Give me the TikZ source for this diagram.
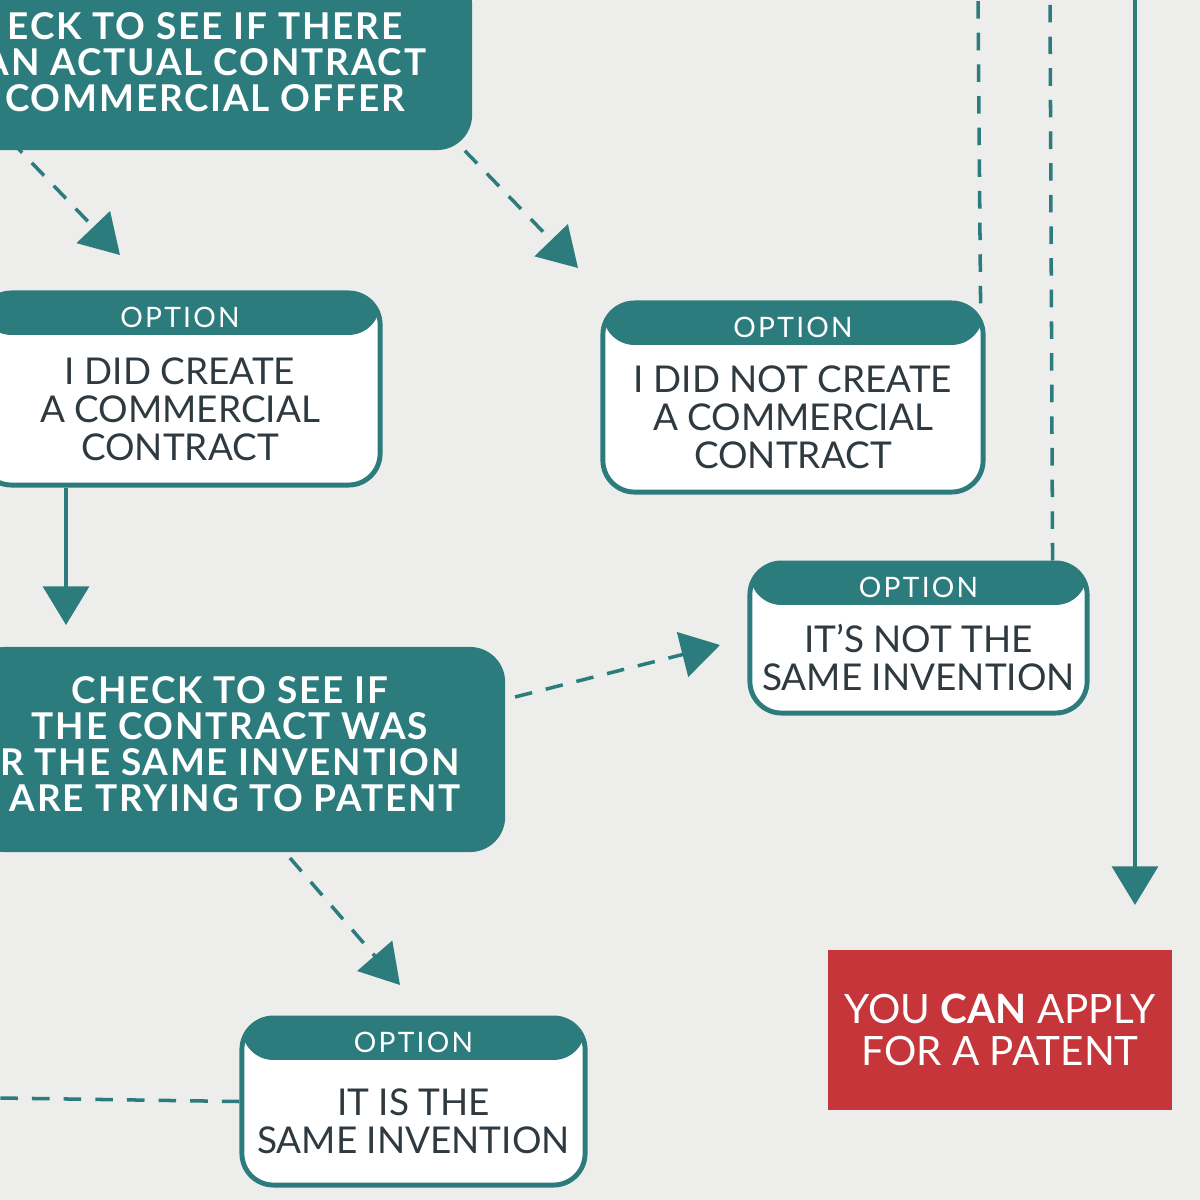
\documentclass[tikz,border=0pt]{standalone}
\usepackage{fontspec}
\setmainfont{Lato}
\usetikzlibrary{arrows.meta,positioning}
\definecolor{teal}{HTML}{2C7C7E}
\definecolor{ink}{HTML}{2E3A40}
\definecolor{warn}{HTML}{C6353A}
\definecolor{paper}{HTML}{EDEDEB}
\tikzset{
  optbox/.style={draw=teal,line width=1.4pt,rounded corners=9pt,fill=white,
    path picture={\fill[teal] (path picture bounding box.north west) rectangle ([yshift=-0.42cm]path picture bounding box.north east);}},
  opthead/.style={below=0.04cm,text=white,font=\fontsize{8}{9}\selectfont\addfontfeature{LetterSpace=8}},
  optbody/.style={text=ink,align=center,font=\fontsize{10.5}{10.8}\selectfont},
  checkbox/.style={fill=teal,rounded corners=10pt,text=white,align=center,
    font=\bfseries\fontsize{10.5}{10.8}\selectfont\addfontfeature{LetterSpace=5}},
  flow/.style={teal,line width=1.3pt,-{Triangle[width=13pt,length=11pt]}},
  maybe/.style={flow,dashed,dash pattern=on 5pt off 4pt,line width=1pt},
  link/.style={teal,line width=1pt,dashed,dash pattern=on 5pt off 4pt}
}
\begin{document}
\begin{tikzpicture}[x=0.01cm,y=-0.01cm]
\useasboundingbox (0,0) rectangle (1200,1200);
\fill[paper] (0,0) rectangle (1200,1200);
\begin{scope}
\clip (0,0) rectangle (1200,1200);
% boites du haut et du milieu
\node[checkbox,minimum width=5.22cm,minimum height=1.8cm] (check1) at (211,60) {};
\node[checkbox] at (205,62) {ECK TO SEE IF THERE\\[-0.5pt]AN ACTUAL CONTRACT\\[-0.5pt]COMMERCIAL OFFER};
\node[checkbox,minimum width=5.35cm,minimum height=2.05cm] (check2) at (237.5,749.5) {};
\node[checkbox] at (230,744) {CHECK TO SEE IF\\[-0.5pt]THE CONTRACT WAS\\[-0.5pt]R THE SAME INVENTION\\[-0.5pt]\ ARE TRYING TO PATENT};

% options
\node[optbox,minimum width=4cm,minimum height=1.92cm] (did) at (180,389) {};
\node[opthead] at (did.north) {OPTION};
\node[optbody] at ([yshift=-0.2cm]did.center) {I DID CREATE\\A COMMERCIAL\\CONTRACT};

\node[optbox,minimum width=3.8cm,minimum height=1.89cm] (didnot) at (793,397.5) {};
\node[opthead] at (didnot.north) {OPTION};
\node[optbody] at ([yshift=-0.2cm]didnot.center) {I DID NOT CREATE\\A COMMERCIAL\\CONTRACT};

\node[optbox,minimum width=3.37cm,minimum height=1.5cm] (notsame) at (918.5,638) {};
\node[opthead] at (notsame.north) {OPTION};
\node[optbody] at ([yshift=-0.2cm]notsame.center) {IT’S NOT THE\\SAME INVENTION};

\node[optbox,minimum width=3.43cm,minimum height=1.67cm] (same) at (413.5,1101.5) {};
\node[opthead] at (same.north) {OPTION};
\node[optbody] at ([yshift=-0.2cm]same.center) {IT IS THE\\SAME INVENTION};

\node[fill=warn,minimum width=3.44cm,minimum height=1.6cm,text=white,align=center,
  font=\fontsize{11.5}{12}\selectfont] (apply) at (1000,1030) {YOU \textbf{CAN} APPLY\\FOR A PATENT};

% fleches
\coordinate (a1) at (120,255);
\coordinate (a2) at (578,268);
\coordinate (a3) at (720,645);
\coordinate (a4) at (400,985);
\draw[maybe] (10,140) -- (a1);
\draw[maybe] (check1.south east) ++(-8,0) -- (a2);
\draw[flow] (did.south -| 66,0) -- (66,625);
\draw[maybe] (515,697) -- (a3);
\draw[maybe] (290,858) -- (a4);
\draw[link] (same.west) -- (0,1098);
\draw[link] (didnot.north east) ++(-5,3) -- (978,0);
\draw[link] (notsame.north east) ++(-37,0) -- (1050,0);
\draw[flow] (1135,0) -- (1135,905);
\end{scope}
\end{tikzpicture}
\end{document}
